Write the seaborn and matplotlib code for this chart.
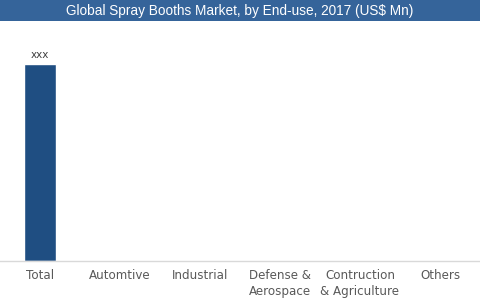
import matplotlib
matplotlib.use("Agg")
import matplotlib.pyplot as plt
import seaborn as sns
import pandas as pd
import numpy as np

categories = ["Total", "Automtive", "Industrial", "Defense &\nAerospace", "Contruction\n& Agriculture", "Others"]
values = [100, 0, 0, 0, 0, 0]
labels = ["xxx", "", "", "", "", ""]

sns.set_theme(style="white")
plt.rcParams['font.family'] = ['DejaVu Sans']

df = pd.DataFrame({"cat": categories, "val": values})

fig = plt.figure(figsize=(4.8, 3.03), dpi=100)
ax = fig.add_axes([0, (303 - 261) / 303, 1, (261 - 28) / 303])
sns.barplot(data=df, x="cat", y="val", color="#1f4e82", width=0.4, ax=ax, saturation=1)
ax.set_ylim(0, 100 * (261 - 28) / (261 - 64))
ax.set_xlim(-0.5, 5.5)
for i, (v, lab) in enumerate(zip(values, labels)):
    if lab:
        ax.text(i, v + 2, lab, ha="center", va="bottom", fontsize=7.5, color="#404040")
ax.set_xlabel("")
ax.set_ylabel("")
ax.set_yticks([])
for s in ["top", "right", "left"]:
    ax.spines[s].set_visible(False)
ax.spines["bottom"].set_color("#d9d9d9")
ax.spines["bottom"].set_linewidth(1)
ax.tick_params(axis="x", length=0, pad=6, labelsize=8.6, labelcolor="#595959")
for t in ax.get_xticklabels():
    t.set_va("top")
    t.set_linespacing(1.25)

# title banner
fig.patches.append(plt.Rectangle((0, 1 - 21 / 303), 1, 21 / 303, transform=fig.transFigure,
                                 facecolor="#35649a", edgecolor="none"))
fig.text(0.5, 1 - 10.5 / 303, "Global Spray Booths Market, by End-use, 2017 (US$ Mn)",
         ha="center", va="center", color="white", fontsize=9.8, family="Liberation Sans")
fig.savefig("out.png", dpi=100)
